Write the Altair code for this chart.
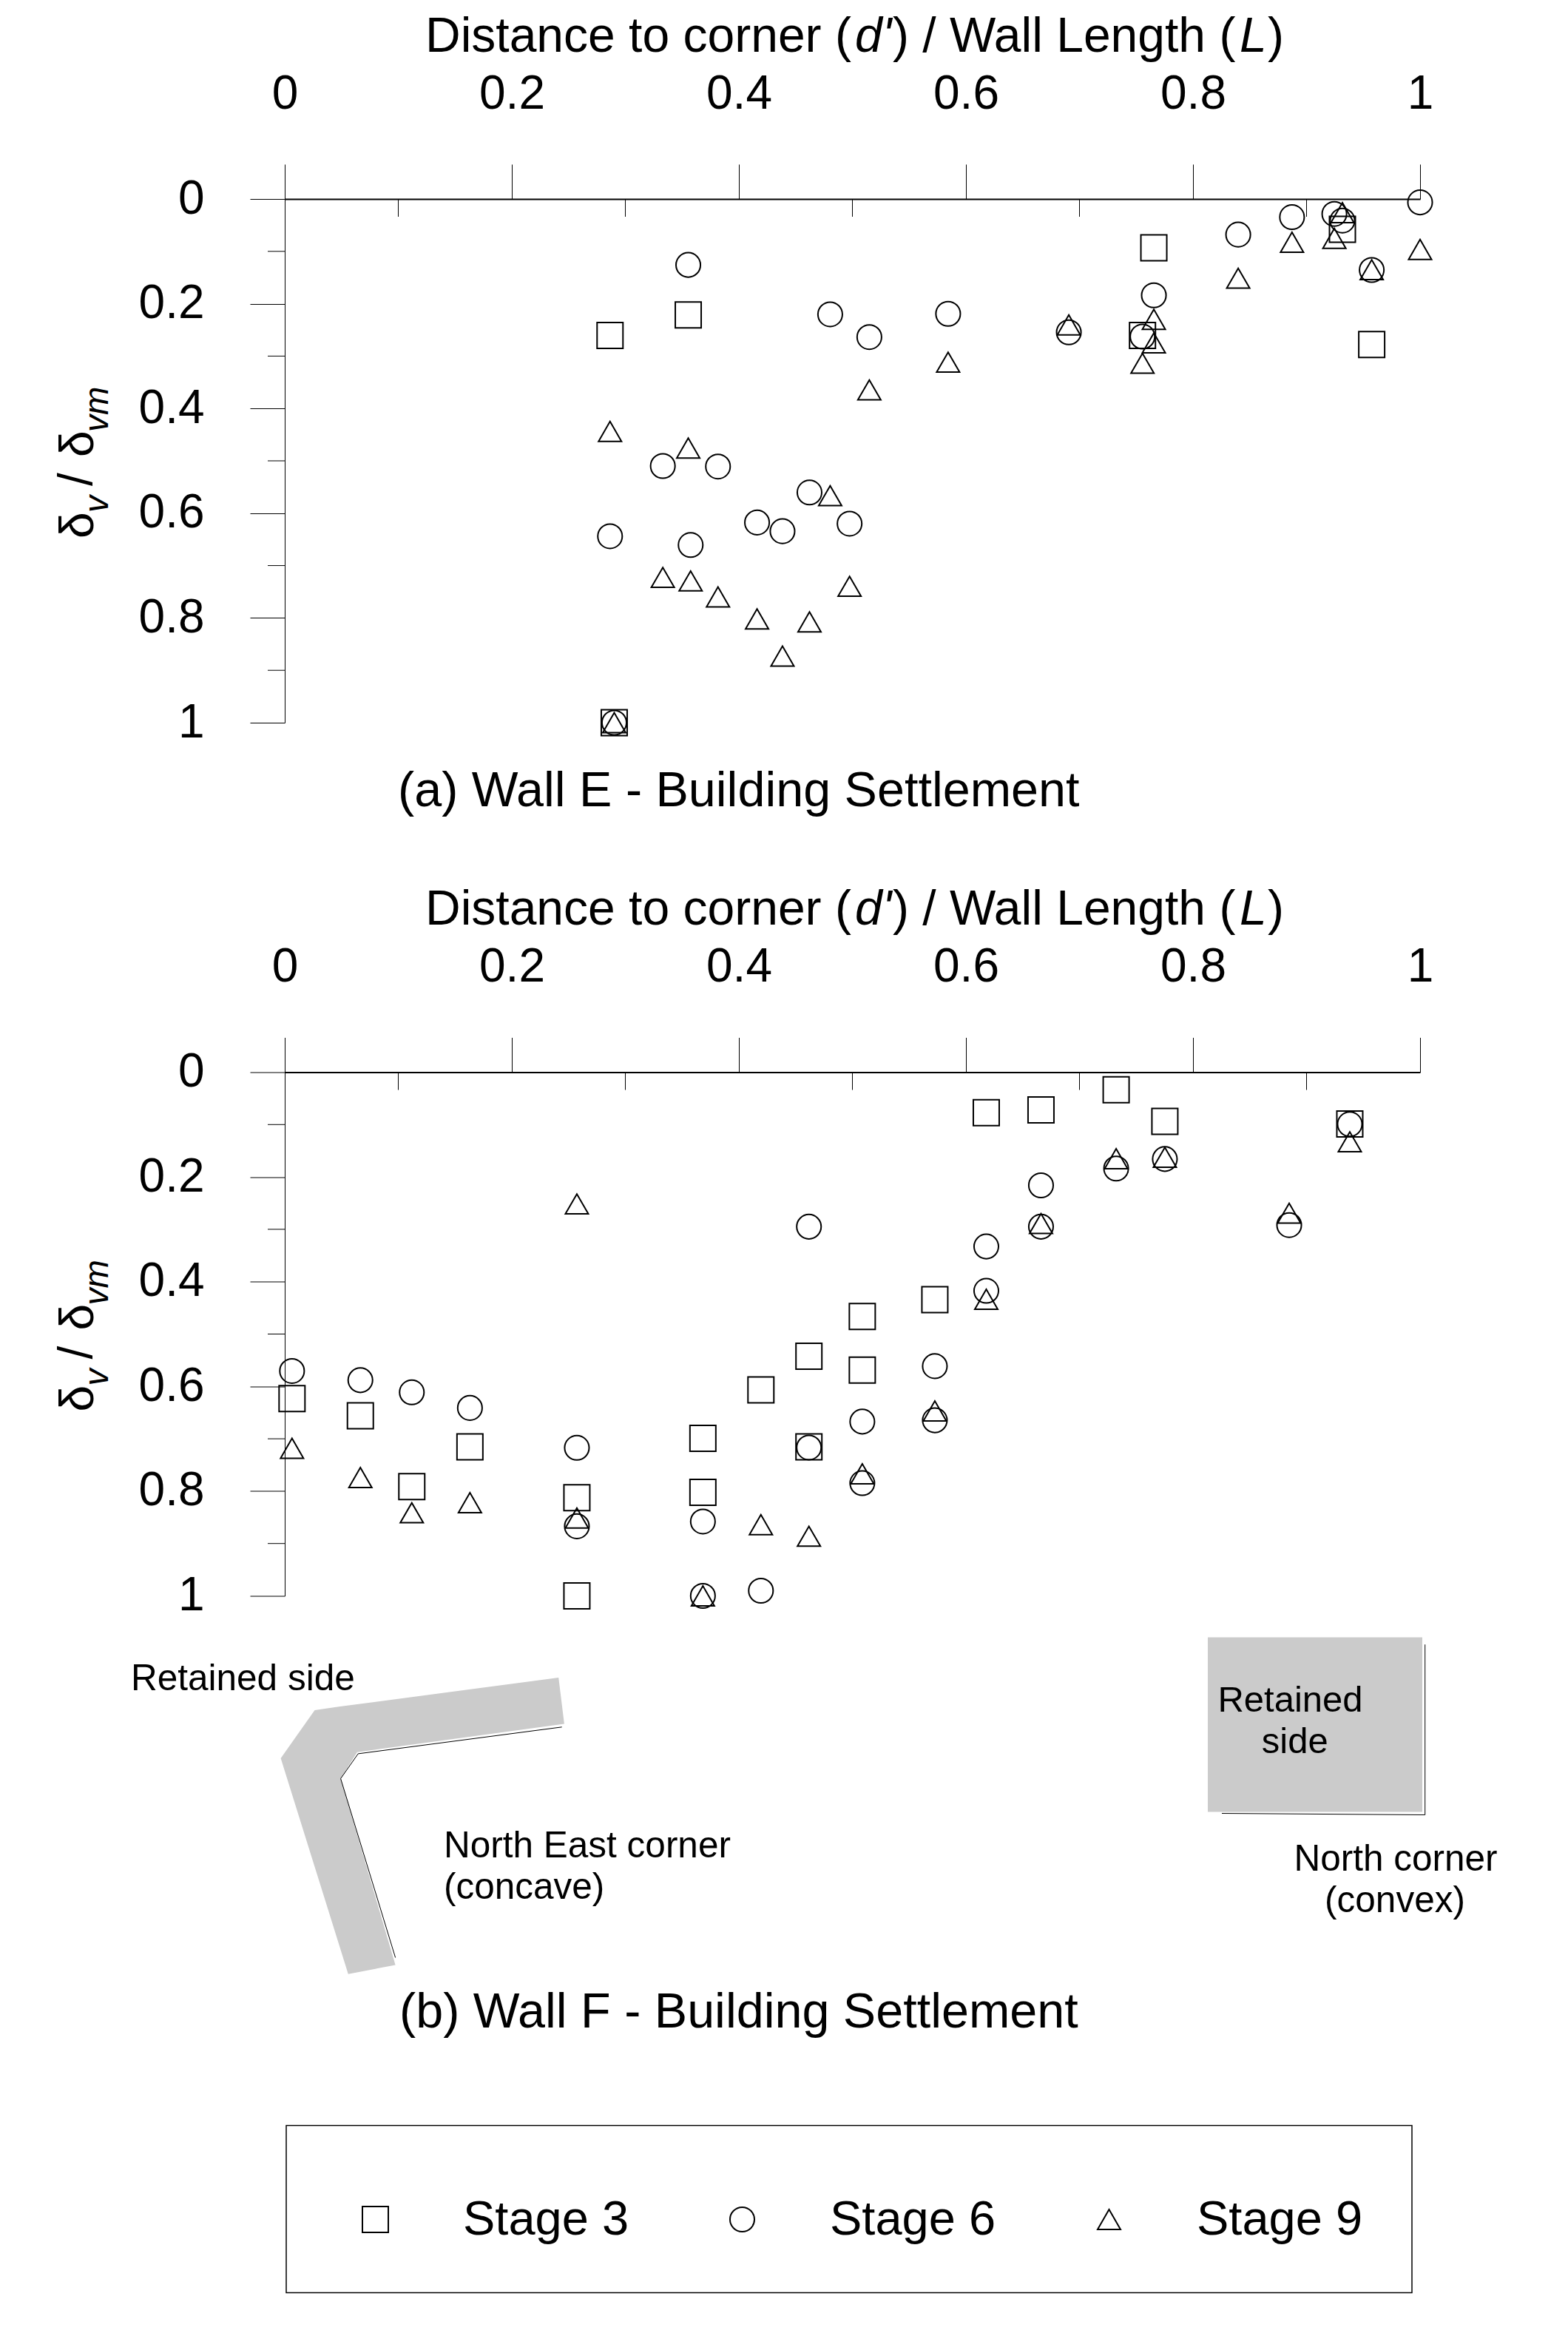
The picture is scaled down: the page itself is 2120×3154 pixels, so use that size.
import altair as alt
import pandas as pd

FONT = "Liberation Sans"
STAGES = ["Stage 3", "Stage 6", "Stage 9"]

# ---------- Panel (a) Wall E ----------
a3_x = [0.2865, 0.3554, 0.7655, 0.7555, 0.9316, 0.9574, 0.2902]
a3_y = [0.2607, 0.2213, 0.0932, 0.2607, 0.0580, 0.2778, 1.0000]
a6_x = [0.3554, 0.4804, 0.5149, 0.5843, 0.6906, 0.7555, 0.7655, 0.8398, 0.8872, 0.9245, 0.9316, 0.9574, 1.0000,
        0.2865, 0.3330, 0.3575, 0.3816, 0.4160, 0.4384, 0.4622, 0.4975, 0.2902]
a6_y = [0.1259, 0.2203, 0.2637, 0.2193, 0.2546, 0.2627, 0.1840, 0.0680, 0.0347, 0.0285, 0.0412, 0.1356, 0.0065,
        0.6440, 0.5099, 0.6607, 0.5109, 0.6178, 0.6344, 0.5605, 0.6200, 1.0000]
a9_x = [0.2865, 0.3554, 0.3330, 0.3575, 0.3816, 0.4160, 0.4384, 0.4622, 0.4975, 0.4804, 0.2902,
        0.5149, 0.5843, 0.6906, 0.7655, 0.7655, 0.7555, 0.8398, 0.8872, 0.9245, 0.9316, 0.9574, 1.0000]
a9_y = [0.4438, 0.4756, 0.7227, 0.7294, 0.7599, 0.8019, 0.8729, 0.8076, 0.7395, 0.5665, 1.0000,
        0.3645, 0.3116, 0.2405, 0.2299, 0.2748, 0.3137, 0.1513, 0.0826, 0.0752, 0.0261, 0.1351, 0.0964]

# ---------- Panel (b) Wall F ----------
b3_x = [0.0064, 0.0666, 0.1119, 0.1631, 0.2573, 0.2573, 0.3683, 0.3683, 0.4194, 0.4617, 0.4617, 0.5087, 0.5087,
        0.5726, 0.6179, 0.6661, 0.7323, 0.7752, 0.9381]
b3_y = [0.6234, 0.6562, 0.7914, 0.7153, 0.8126, 1.0000, 0.6990, 0.8023, 0.6068, 0.5422, 0.7153, 0.4665, 0.5689,
        0.4342, 0.0775, 0.0720, 0.0337, 0.0938, 0.0989]
b6_x = [0.0064, 0.0666, 0.1119, 0.1631, 0.2573, 0.2573, 0.3683, 0.3683, 0.4194, 0.4617, 0.4617, 0.5087, 0.5087,
        0.5726, 0.5726, 0.6179, 0.6179, 0.6661, 0.6661, 0.7323, 0.7752, 0.8847, 0.9381]
b6_y = [0.5705, 0.5881, 0.6113, 0.6411, 0.7172, 0.8671, 0.8580, 1.0000, 0.9901, 0.2950, 0.7167, 0.6672, 0.7847,
        0.5613, 0.6647, 0.3328, 0.4175, 0.2161, 0.2950, 0.1840, 0.1658, 0.2919, 0.0993]
b9_x = [0.0064, 0.0666, 0.1119, 0.1631, 0.2573, 0.2573, 0.3683, 0.4194, 0.4617, 0.5087, 0.5726, 0.6179, 0.6661,
        0.7323, 0.7752, 0.8847, 0.9381]
b9_y = [0.7182, 0.7740, 0.8412, 0.8220, 0.2515, 0.8514, 1.0000, 0.8640, 0.8861, 0.7670, 0.6469, 0.4336, 0.2890,
        0.1653, 0.1627, 0.2692, 0.1330]

major_ticks = [0, 0.2, 0.4, 0.6, 0.8, 1]
minor_ticks = [0.1, 0.3, 0.5, 0.7, 0.9]

TX = 385   # plot left on the page
TB = 1449  # panel (b) top axis on the page

WALL_FILL = ("M40.5,862.4 L73,857.8 L370.2,818.5 L377.9,881 L97.9,919.2 L75.6,954.9 "
             "L149.6,1207 L85.8,1219.2 L-5.4,927.4 Z")
WALL_LINE = "M374.7,885.3 L99.2,921.4 L75.6,955 L149.6,1197"
BOX_LINE = "M1541.7,773.7 L1541.7,1004 L1267,1002"


def frame():
    return alt.Chart(pd.DataFrame({"k": [0]}))


def label(text, x, y, size=66, italic=False, angle=0, align="left"):
    return frame().mark_text(
        text=text, font=FONT, fontSize=size, color="black", align=align, baseline="alphabetic",
        angle=angle, fontStyle="italic" if italic else "normal",
    ).encode(x=alt.value(x), y=alt.value(y))


def long_table(xs3, ys3, xs6, ys6, xs9, ys9):
    rows = []
    for stage, xs, ys in zip(STAGES, (xs3, xs6, xs9), (ys3, ys6, ys9)):
        rows += [{"stage": stage, "x": a, "y": b} for a, b in zip(xs, ys)]
    return pd.DataFrame(rows)


def panel(table, caption, caption_x, caption_y, legend, extras=()):
    x_scale = alt.Scale(domain=[0, 1], nice=False, zero=False)
    y_scale = alt.Scale(domain=[0, 1], nice=False, zero=False, reverse=True)
    points = alt.Chart(table).mark_point(filled=False, strokeWidth=2, color="black", opacity=1).encode(
        x=alt.X("x:Q", scale=x_scale, title=None, axis=alt.Axis(
            orient="top", values=major_ticks, format=".1~f", grid=False, tickSize=47, tickWidth=1,
            tickColor="black", domainColor="black", domainWidth=2, labelPadding=76, labelFontSize=64,
            labelFont=FONT, labelColor="black", labelBaseline="alphabetic", labelAngle=0, labelFlush=False,
            labelOverlap=False)),
        y=alt.Y("y:Q", scale=y_scale, title=None, axis=alt.Axis(
            orient="left", values=major_ticks, format=".1~f", grid=False, tickSize=47, tickWidth=1,
            tickColor="black", domainColor="black", domainWidth=1, labelPadding=62, labelFontSize=64,
            labelFont=FONT, labelColor="black", labelFlush=False, labelOverlap=False)),
        shape=alt.Shape("stage:N", title=" ", legend=legend,
                        scale=alt.Scale(domain=STAGES, range=["square", "circle", "triangle-up"])),
        size=alt.Size("stage:N", title=" ", legend=legend,
                      scale=alt.Scale(domain=STAGES, range=[1225, 962, 1225])),
    )
    x_minor = alt.Chart(pd.DataFrame({"v": minor_ticks})).mark_rule(color="black", strokeWidth=1).encode(
        x=alt.X("v:Q", scale=x_scale), y=alt.value(0), y2=alt.value(24))
    y_minor = alt.Chart(pd.DataFrame({"v": minor_ticks})).mark_rule(color="black", strokeWidth=1).encode(
        y=alt.Y("v:Q", scale=y_scale), x=alt.value(-23), x2=alt.value(0))
    title = [
        label("Distance to corner (", 190, -199.4),
        label("d'", 771, -199.4, italic=True),
        label(") / Wall Length (", 822, -199.4),
        label("L", 1291, -199.4, italic=True),
        label(")", 1329, -199.4),
    ]
    ytitle = [
        label("\u03b4", -259, 459, size=64, angle=270),
        label("v", -239, 424, size=46, italic=True, angle=270),
        label("/", -261, 388, size=64, angle=270),
        label("\u03b4", -259, 349, size=64, angle=270),
        label("vm", -239, 315, size=46, italic=True, angle=270),
    ]
    return alt.layer(
        x_minor, y_minor, *extras, points, *title, *ytitle, label(caption, caption_x, caption_y, size=66.5),
    ).properties(width=1535, height=708)


inset = [
    frame().mark_point(shape=WALL_FILL, size=4, filled=True, fill="#cbcbcb", strokeWidth=0, opacity=1).encode(
        x=alt.value(0), y=alt.value(0)),
    frame().mark_point(shape=WALL_LINE, size=4, filled=False, stroke="black", strokeWidth=1, opacity=1).encode(
        x=alt.value(0), y=alt.value(0)),
    frame().mark_rect(color="#cbcbcb").encode(
        x=alt.value(1633 - TX), x2=alt.value(1923 - TX), y=alt.value(2213 - TB), y2=alt.value(2449 - TB)),
    frame().mark_point(shape=BOX_LINE, size=4, filled=False, stroke="black", strokeWidth=1, opacity=1).encode(
        x=alt.value(0), y=alt.value(0)),
    label("Retained side", 177 - TX, 2284 - TB, size=49.5),
    label("North East corner", 600 - TX, 2510 - TB, size=49.5),
    label("(concave)", 600 - TX, 2566 - TB, size=49.5),
    label("Retained", 1744.5 - TX, 2313 - TB, size=49, align="center"),
    label("side", 1750.7 - TX, 2369 - TB, size=49, align="center"),
    label("North corner", 1887 - TX, 2528 - TB, size=49.5, align="center"),
    label("(convex)", 1886 - TX, 2584 - TB, size=49.5, align="center"),
]

stage_legend = alt.Legend(
    orient="none", legendX=2, legendY=2873 - TB, direction="horizontal", columns=3,
    labelFontSize=65, labelFont=FONT, labelColor="black", labelOffset=86, labelLimit=400, columnPadding=98,
    strokeColor="black", padding=66, clipHeight=60, symbolStrokeColor="black", symbolStrokeWidth=2,
    symbolOffset=22, fillColor="white", titleFontSize=10, titlePadding=21,
)

panel_a = panel(long_table(a3_x, a3_y, a6_x, a6_y, a9_x, a9_y), "(a) Wall E - Building Settlement",
                538 - TX, 1088.6 - 268, None)
panel_b = panel(long_table(b3_x, b3_y, b6_x, b6_y, b9_x, b9_y), "(b) Wall F - Building Settlement",
                540 - TX, 2740.5 - TB, stage_legend, inset)

chart = alt.vconcat(panel_a, panel_b, spacing=92.5).resolve_scale(
    x="independent", y="independent", shape="independent", size="independent",
).resolve_legend(shape="independent", size="independent").configure_view(stroke=None).configure_legend(
    strokeWidth=1.5
).properties(
    background="white", padding={"left": 65, "top": 8, "right": 0, "bottom": 0}
)

chart.save("out.html", embed_options={"renderer": "svg", "actions": False})
